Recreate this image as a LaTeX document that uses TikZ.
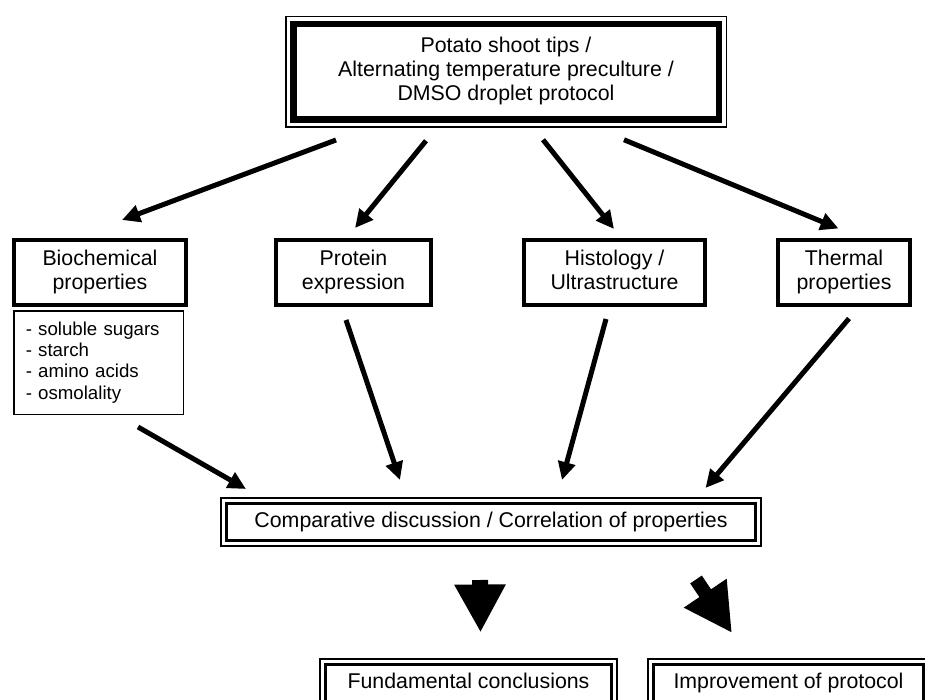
\documentclass[tikz,border=0pt]{standalone}
\usepackage{fontspec}
\setmainfont{Liberation Sans}
\usetikzlibrary{arrows.meta,positioning}

\newcommand{\boxfont}{\fontsize{21.33}{24}\selectfont}
\newcommand{\listfont}{\fontsize{18.67}{21.3}\selectfont}

\begin{document}
\begin{tikzpicture}[x=1pt, y=-1pt,
    every node/.style={outer sep=0pt, font=\boxfont},
    stage/.style={rectangle, draw, line width=4pt, minimum height=65pt, align=center},
    listbox/.style={rectangle, draw, line width=1.5pt, font=\listfont, align=left, inner xsep=12pt, text width=145.5pt, minimum height=103.5pt},
    result/.style={rectangle, draw, line width=3.3pt, minimum height=37.4pt, text height=15.5pt, text depth=4.5pt},
    frame/.style={line width=2pt},
    conn/.style={line width=5pt, -{Triangle[length=18pt,width=17pt]}},
    bigarrow/.style={-{Triangle[length=48pt,width=48pt]}}
]
\useasboundingbox (0,0) rectangle (925,700);
\clip (0,0) rectangle (925,700);

% Start
\node (top) [rectangle, draw, line width=6.5pt, minimum width=425.5pt, minimum height=95.5pt, align=center] at (506,72)
    {\strut Potato shoot tips /\\ Alternating temperature preculture /\\ DMSO droplet protocol\strut};
\draw[line width=1.5pt] ([xshift=-7.5pt,yshift=7.5pt]top.north west) rectangle ([xshift=7.5pt,yshift=-7.5pt]top.south east);

% Untersuchungen
\node (bio) [stage, minimum width=172pt] at (100,272.5) {\strut Biochemical\\ properties\strut};
\node (prot) [stage, minimum width=155pt] at (353.5,272.5) {\strut Protein\\ expression\strut};
\node (hist) [stage, minimum width=181pt] at (614.5,272.5) {\strut Histology /\\ Ultrastructure\strut};
\node (therm) [stage, minimum width=132pt] at (844,272.5) {\strut Thermal\\ properties\strut};
\node (list) [listbox, below=5.75pt of bio, xshift=-1.5pt]
    {- soluble sugars\\ - starch\\ - amino acids\\ - osmolality};

% Diskussion
\node (comp) [result, minimum width=528.6pt] at (491,522) {Comparative discussion / Correlation of properties};
\draw[frame] ([xshift=-5.3pt,yshift=5.3pt]comp.north west) rectangle ([xshift=5.3pt,yshift=-5.3pt]comp.south east);

\node (fund) [result, minimum width=286pt] at (468.5,683.2) {Fundamental conclusions};
\draw[frame] ([xshift=-5.3pt,yshift=5.3pt]fund.north west) rectangle ([xshift=5.3pt,yshift=-5.3pt]fund.south east);
\node (impr) [result, minimum width=270pt] at (788.5,683.2) {Improvement of protocol};
\draw[frame] ([xshift=-5.3pt,yshift=5.3pt]impr.north west) rectangle ([xshift=5.3pt,yshift=-5.3pt]impr.south east);

% Pfeile
\draw[conn] ([xshift=-170pt,yshift=-20.25pt]top.south) -- ([xshift=22pt,yshift=20pt]bio.north);
\draw[conn] ([xshift=-80pt,yshift=-21pt]top.south) -- ([xshift=1.5pt,yshift=12pt]prot.north);
\draw[conn] ([xshift=37pt,yshift=-20pt]top.south) -- ([xshift=-0.5pt,yshift=11pt]hist.north);
\draw[conn] ([xshift=118pt,yshift=-20pt]top.south) -- ([xshift=-5.5pt,yshift=11.5pt]therm.north);

\draw[conn] ([xshift=39.5pt,yshift=-12.75pt]list.south) -- ([xshift=-245pt,yshift=14.3pt]comp.north);
\draw[conn] ([xshift=-7.5pt,yshift=-15pt]prot.south) -- ([xshift=-91pt,yshift=23.3pt]comp.north);
\draw[conn] ([xshift=-8.5pt,yshift=-14pt]hist.south) -- ([xshift=71pt,yshift=23.3pt]comp.north);
\draw[conn] ([xshift=5pt,yshift=-13.5pt]therm.south) -- ([xshift=214.5pt,yshift=15.3pt]comp.north);

\draw[bigarrow, line width=16pt] ([xshift=-11pt,yshift=-39.3pt]comp.south) -- ([xshift=12pt,yshift=32pt]fund.north);
\draw[bigarrow, line width=14pt] ([xshift=205pt,yshift=-38.8pt]comp.south) -- ([xshift=-56.5pt,yshift=31.5pt]impr.north);

\end{tikzpicture}
\end{document}
